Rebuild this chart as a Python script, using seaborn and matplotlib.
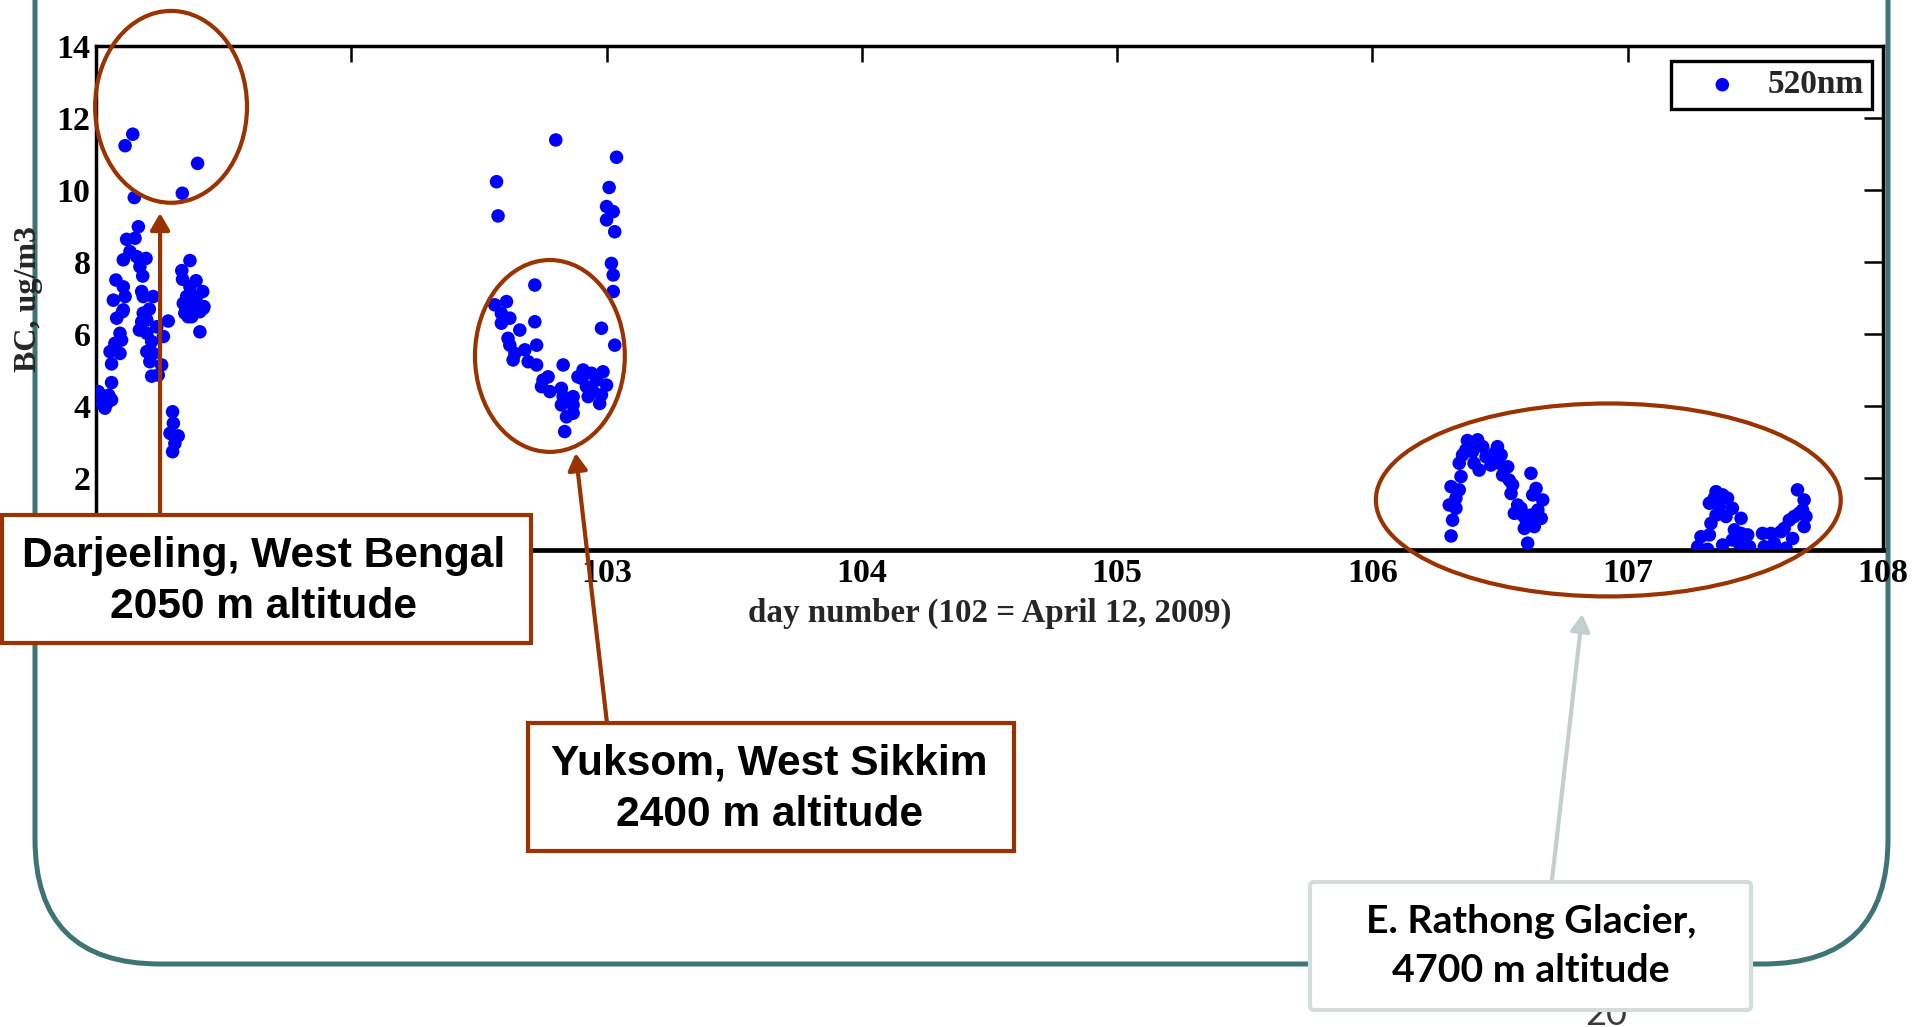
import matplotlib
matplotlib.use("Agg")
import matplotlib.pyplot as plt
import seaborn as sns
import pandas as pd
from matplotlib.patches import Ellipse, Rectangle, FancyBboxPatch

# ---------------- data ----------------
darjeeling_day = [
    101.114, 101.144, 101.150, 101.338, 101.398,
    101.166, 101.120, 101.153, 101.107, 101.133, 101.159, 101.196, 101.172, 101.183,
    101.078, 101.107, 101.068, 101.114, 101.179, 101.185, 101.224, 101.209, 101.104,
    101.081, 101.199, 101.283,
    101.368, 101.336, 101.339, 101.392, 101.368, 101.418, 101.355, 101.394, 101.342,
    101.381, 101.423, 101.348, 101.407, 101.375, 101.394, 101.361, 101.420, 101.407,
    101.107, 101.094, 101.100, 101.074, 101.055, 101.094, 101.061, 101.061, 101.009,
    101.029, 101.042, 101.035, 101.061, 101.016, 101.050, 101.025,
    101.179, 101.170, 101.199, 101.218, 101.199, 101.224, 101.211, 101.257, 101.218,
    101.244, 101.238, 101.264, 101.185,
    101.300, 101.303, 101.290, 101.322, 101.309, 101.300,
]
darjeeling_bc = [
    11.23, 11.55, 9.79, 9.91, 10.74,
    8.98, 8.63, 8.66, 8.06, 8.29, 8.15, 8.10, 7.87, 7.61,
    7.50, 7.31, 6.94, 7.04, 7.18, 7.04, 7.04, 6.69, 6.62,
    6.44, 6.39, 6.36,
    8.04, 7.76, 7.52, 7.48, 7.31, 7.18, 7.04, 7.04, 6.85,
    6.76, 6.76, 6.58, 6.62, 6.48, 6.81, 6.48, 6.71, 6.06,
    6.67, 6.02, 5.83, 5.74, 5.51, 5.46, 5.17, 4.65, 4.40,
    4.26, 4.07, 3.94, 4.17, 4.31, 4.30, 4.05,
    6.34, 6.11, 6.02, 5.79, 5.51, 5.46, 5.23, 5.14, 4.83,
    4.86, 6.20, 5.93, 6.58,
    3.84, 3.52, 3.24, 3.17, 2.96, 2.73,
]

yuksom_day = [
    102.801, 103.039, 102.569, 102.575, 103.010, 103.000, 103.026, 103.000, 103.032,
    103.019, 103.026, 103.026, 102.719, 102.980, 103.032,
    102.562, 102.608, 102.588, 102.621, 102.588, 102.719, 102.660, 102.614, 102.621,
    102.726, 102.641, 102.680, 102.634, 102.693, 102.726, 102.830, 102.751, 102.771,
    102.745, 102.823, 102.778, 102.908, 102.941, 102.986, 102.902, 102.961, 103.000,
    102.921, 102.947, 102.980, 102.928, 102.973, 102.830, 102.869, 102.823, 102.869,
    102.843, 102.869, 102.836, 102.888,
]
yuksom_bc = [
    11.39, 10.91, 10.23, 9.28, 10.07, 9.54, 9.40, 9.17, 8.84,
    7.96, 7.64, 7.18, 7.36, 6.16, 5.69,
    6.81, 6.90, 6.57, 6.44, 6.30, 6.34, 6.11, 5.88, 5.69,
    5.69, 5.46, 5.56, 5.28, 5.23, 5.14, 5.14, 4.72, 4.81,
    4.54, 4.49, 4.40, 5.00, 4.91, 4.95, 4.77, 4.72, 4.58,
    4.54, 4.40, 4.31, 4.26, 4.07, 4.26, 4.26, 4.03, 4.03,
    3.70, 3.80, 3.29, 4.81,
]

rathong_day = [
    106.308, 106.314, 106.301, 106.327, 106.308, 106.340, 106.327, 106.347, 106.340,
    106.353, 106.366, 106.372, 106.412, 106.392, 106.398, 106.418, 106.432, 106.445,
    106.464, 106.490, 106.504, 106.478, 106.497, 106.530, 106.510, 106.536, 106.549,
    106.543, 106.569, 106.556, 106.582, 106.602, 106.595, 106.608, 106.621, 106.641,
    106.628, 106.667, 106.648, 106.661, 106.621, 106.634, 106.588,
    107.274, 107.287, 107.313, 107.320, 107.326, 107.346, 107.320, 107.339, 107.346,
    107.372, 107.359, 107.391, 107.410, 107.385, 107.444, 107.418, 107.444, 107.470,
    107.477, 107.372, 107.410, 107.436, 107.528, 107.535, 107.561, 107.574, 107.600,
    107.620, 107.613, 107.633, 107.652, 107.646, 107.672, 107.691, 107.698, 107.685,
    107.665, 107.691,
]
rathong_bc = [
    0.39, 0.83, 1.25, 1.16, 1.76, 1.67, 1.44, 2.04, 2.41,
    2.64, 2.78, 3.04, 3.06, 2.73, 2.41, 2.22, 2.87, 2.59,
    2.36, 2.87, 2.64, 2.69, 2.41, 2.31, 2.08, 1.94, 1.81,
    1.57, 1.25, 1.02, 1.16, 0.83, 0.60, 0.19, 2.13, 1.71,
    1.53, 1.39, 1.11, 0.88, 0.97, 0.65, 0.97,
    0.09, 0.37, 0.02, 0.42, 0.74, 0.97, 1.30, 1.44, 1.62,
    1.53, 1.20, 1.44, 1.16, 0.93, 0.88, 0.56, 0.46, 0.42,
    0.09, 0.14, 0.28, 0.19, 0.46, 0.09, 0.46, 0.19, 0.51,
    0.05, 0.60, 0.83, 0.93, 0.32, 1.02, 0.65, 0.93, 1.11,
    1.67, 1.39,
]

x_ticks = [101, 102, 103, 104, 105, 106, 107, 108]
y_ticks = [0, 2, 4, 6, 8, 10, 12, 14]
legend_label = "520nm"
x_label = "day number (102 = April 12, 2009)"
y_label = "BC, ug/m3"
site_names = ["Darjeeling, West Bengal", "Yuksom, West Sikkim", "E. Rathong Glacier,"]
site_altitudes = ["2050 m altitude", "2400 m altitude", "4700 m altitude"]
slide_number = "20"

# ---------------- style ----------------
sns.set_theme(style="white")
plt.rcParams["font.family"] = ["Liberation Serif", "DejaVu Serif"]
plt.rcParams["axes.edgecolor"] = "black"

BROWN = "#993300"
TEAL = "#3e7474"
PALE = "#d3dddc"
W, H = 1915, 1027

fig = plt.figure(figsize=(W / 100, H / 100), dpi=100)
fig.patch.set_facecolor("white")

# background layer: slide frame (below the chart so the axis label stays readable)
bg = fig.add_axes([0, 0, 1, 1], zorder=-1)
bg.set_xlim(0, W)
bg.set_ylim(H, 0)
bg.axis("off")
bg.add_patch(FancyBboxPatch((35, -300), 1888 - 35, 964 + 300,
                            boxstyle="round,pad=0,rounding_size=125",
                            fill=False, ec=TEAL, lw=3.6, zorder=1))

ax = fig.add_axes([96 / W, 1 - 550 / H, (1883 - 96) / W, (550 - 46) / H], zorder=1)

df = pd.DataFrame({
    "day": darjeeling_day + yuksom_day + rathong_day,
    "bc": darjeeling_bc + yuksom_bc + rathong_bc,
})
sns.scatterplot(data=df, x="day", y="bc", ax=ax, color="#0000ff", s=95,
                edgecolor="none", linewidth=0, label=legend_label, zorder=3)

ax.set_xlim(101, 108)
ax.set_ylim(0, 14)
ax.set_xticks(x_ticks)
ax.set_yticks(y_ticks)
ax.tick_params(axis="both", direction="in", top=True, right=True,
               colors="black", labelsize=24.5, width=1.8)
ax.tick_params(axis="x", length=11.5, pad=6)
ax.tick_params(axis="y", length=13.5, pad=4)
for lab in ax.get_xticklabels() + ax.get_yticklabels():
    lab.set_fontweight("bold")
# labels that sit under the Darjeeling box in the reference are hidden there
xt = ax.get_xticklabels()
yt = ax.get_yticklabels()
xt[0].set_visible(False)
xt[1].set_visible(False)
yt[0].set_visible(False)
for name, sp in ax.spines.items():
    sp.set_visible(True)
    sp.set_color("black")
    sp.set_linewidth(3.4 if name == "bottom" else 2.5)

ax.set_xlabel(x_label, fontsize=23.8, fontweight="bold", va="center")
ax.xaxis.set_label_coords(0.5, -0.125)
ax.set_ylabel(y_label, fontsize=23, fontweight="bold", va="center")
ax.yaxis.set_label_coords(-0.038, 0.498)

leg = ax.legend(loc="upper right", bbox_to_anchor=(0.9938, 0.970), borderaxespad=0,
                prop={"family": "Liberation Serif", "weight": "bold", "size": 24},
                handlelength=2.6, handletextpad=0.05, borderpad=0.25,
                fancybox=False, framealpha=1, markerscale=1.0)
leg.get_frame().set_edgecolor("black")
leg.get_frame().set_linewidth(2.4)

# ellipses around the three sites (data coordinates)
for (cx, cy, w, h) in [(101.294, 12.31, 0.595, 5.33),
                       (102.778, 5.39, 0.587, 5.33),
                       (106.924, 1.39, 1.821, 5.36)]:
    ax.add_patch(Ellipse((cx, cy), w, h, fill=False, ec=BROWN, lw=3,
                         clip_on=False, zorder=5))

# arrows from the label boxes to the sites
arrow_specs = [((101.251, 9.36), (160, 515), BROWN),
               ((102.879, 2.69), (607, 723), BROWN),
               ((106.822, -1.78), (1552, 880), "#c5cece")]
for tip, (tx, ty), col in arrow_specs:
    ax.annotate("", xy=tip, xycoords="data", xytext=(tx, H - ty),
                textcoords="figure pixels", annotation_clip=False,
                arrowprops=dict(arrowstyle="-|>,head_length=1.0,head_width=0.58",
                                mutation_scale=10, lw=3, color=col,
                                shrinkA=0, shrinkB=0))

# ---------------- foreground layer: label boxes ----------------
ov = fig.add_axes([0, 0, 1, 1], zorder=5)
ov.set_xlim(0, W)
ov.set_ylim(H, 0)
ov.axis("off")
ov.patch.set_alpha(0)

ov.text(1606, 1025, slide_number, ha="center", va="baseline", fontsize=26,
        family="Lato", color="#3a3a3a", zorder=2)

ov.add_patch(Rectangle((2, 515), 529, 128, fc="white", ec=BROWN, lw=3, zorder=3))
ov.add_patch(Rectangle((528, 723), 486, 128, fc="white", ec=BROWN, lw=3, zorder=3))
ov.add_patch(FancyBboxPatch((1310, 882), 441, 128,
                            boxstyle="round,pad=0,rounding_size=4",
                            fc="white", ec=PALE, lw=3, zorder=3))

box_text = [(264, 566.7, 618.3, "Liberation Sans", 30.6),
            (769.5, 774.7, 826.3, "Liberation Sans", 30.6),
            (1531, 932.7, 982.5, "Lato", 28.3)]
for (cx, y1, y2, fam, fs), nm, alt in zip(box_text, site_names, site_altitudes):
    ov.text(cx, y1, nm, ha="center", va="baseline", fontsize=fs,
            fontweight="bold", family=fam, color="black", zorder=4)
    ov.text(cx, y2, alt, ha="center", va="baseline", fontsize=fs,
            fontweight="bold", family=fam, color="black", zorder=4)

fig.savefig("out.png", dpi=100, facecolor="white")
